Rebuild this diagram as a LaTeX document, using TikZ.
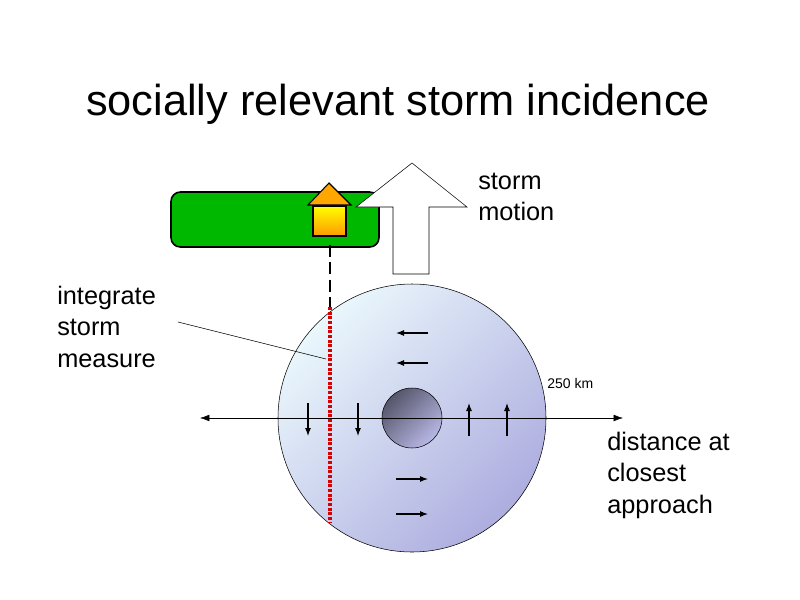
\documentclass[tikz,border=0pt]{standalone}
\usepackage{fontspec}
\setmainfont{Liberation Sans}
\usetikzlibrary{arrows.meta}
\definecolor{stormlight}{HTML}{EAF7FC}
\definecolor{stormdark}{HTML}{ADADDF}
\definecolor{eyedark}{HTML}{55556A}
\definecolor{eyelight}{HTML}{B8B8E6}
\definecolor{land}{HTML}{00B800}
\begin{document}
\begin{tikzpicture}[x=0.75pt,y=-0.75pt]

    \tikzset{label/.style={align=left,anchor=north west,inner sep=0pt,font=\fontsize{19}{23.5}\selectfont}}
    \tikzset{wind/.style={-{Latex[length=6pt,width=4.5pt]},thick}}
    \useasboundingbox (0,0) rectangle (800,600);

    \node[font=\fontsize{32.5}{36}\selectfont] (title) at (398,104) {socially relevant storm incidence};

    % Sturm und Auge.
    \node[circle,draw,thin,minimum size=201pt,inner sep=0pt,top color=stormlight,bottom color=stormdark,shading angle=45] (storm) at (412,418) {};
    \node[circle,draw,thin,minimum size=45pt,inner sep=0pt,top color=eyedark,bottom color=eyelight,shading angle=45] (eye) at (412,418) {};

    % Land und Haus.
    \draw[very thick,fill=land,rounded corners=7pt] (171,192) rectangle (379,247);
    \draw[thin,fill=white] (393,274) -- (393,207) -- (356,207) -- (412,163) -- (467,207) -- (429,207) -- (429,274) -- cycle;
    \draw[thick,top color=yellow,bottom color=orange!80!yellow] (313,206) rectangle (346,236);
    \draw[thick,fill=orange!70!yellow] (308,205) -- (329,183) -- (351,205) -- cycle;
    \node[label] (motion) at (478,173) {storm\\motion};

    % Achse.
    \coordinate (w) at (200,418);
    \coordinate (e) at (623,418);
    \draw[{Latex[length=7pt,width=5pt]}-{Latex[length=7pt,width=5pt]}] (w) -- (e);
    \node[label] (dist) at (607,432) {distance at\\closest\\approach};
    \node[font=\fontsize{10.5}{12}\selectfont,anchor=west,inner sep=0pt] (radius) at (547,383) {250 km};

    % Spur.
    \coordinate (h) at (330,245);
    \coordinate (r1) at (330,307);
    \coordinate (r2) at (330,522);
    \draw[line width=2pt,dash pattern=on 9pt off 4pt] (h) -- (r1);
    \draw[line width=2.4pt,red!85!black,dash pattern=on 2.2pt off 1.3pt] (r1) -- (r2);
    \node[label] (integ) at (57,286) {integrate\\storm\\measure};
    \coordinate (lead) at (326,359);
    \draw[thin] (178,322) -- (lead);

    % Winde.
    \foreach \y in {333,363} \draw[wind] (428,\y) -- (396,\y);
    \foreach \y in {479,514} \draw[wind] (396,\y) -- (428,\y);
    \foreach \x in {308,358} \draw[wind] (\x,403) -- (\x,436);
    \foreach \x in {469,507} \draw[wind] (\x,436) -- (\x,403);

\end{tikzpicture}
\end{document}
